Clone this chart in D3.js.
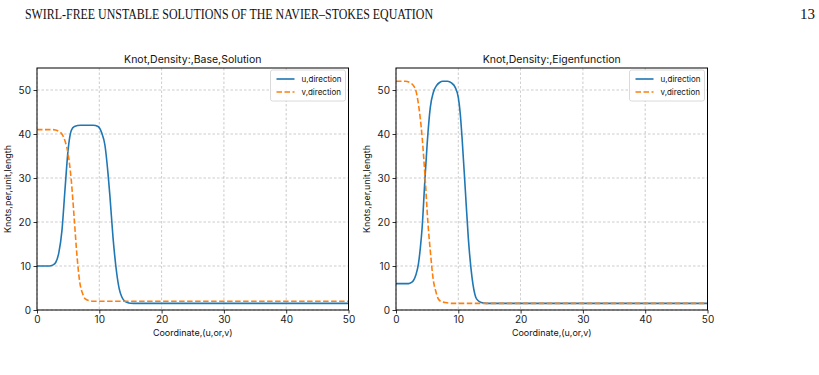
<!DOCTYPE html>
<html><head><meta charset="utf-8">
<script src="https://cdn.jsdelivr.net/npm/d3@7"></script>
<style>
body{margin:0;background:#fff;}
svg{display:block;}
text{font-family:Inter, "Open Sans", sans-serif;}
</style></head>
<body>
<svg id="c" width="819" height="375"></svg>
<script>
// ---- data ----
const headerText = "SWIRL-FREE UNSTABLE SOLUTIONS OF THE NAVIER–STOKES EQUATION";
const pageNumber = "13";
const titles = ["Knot,Density:,Base,Solution", "Knot,Density:,Eigenfunction"];
const xLabel = "Coordinate,(u,or,v)";
const yLabel = "Knots,per,unit,length";
const seriesNames = ["u,direction", "v,direction"];
const xTicks = [0, 10, 20, 30, 40, 50];
const yTicks = [0, 10, 20, 30, 40, 50];

const baseUx = [0, 2, 2.5, 3, 3.5, 4, 4.5, 5, 5.5, 6, 7, 9, 9.8, 10.4, 10.9, 11.4, 11.7, 12.2, 12.8, 13.2, 13.6, 14, 14.5, 15, 16, 50];
const baseUy = [10, 10, 10.2, 10.8, 13, 18, 27.5, 36.5, 40.8, 41.7, 42, 42, 41.7, 40.2, 37.5, 31, 26, 16.5, 8.3, 4.8, 3, 2.1, 1.7, 1.55, 1.5, 1.5];
const baseVx = [0, 2.5, 3, 3.5, 4, 4.5, 5, 5.5, 6, 6.35, 6.9, 7.3, 7.7, 8.5, 9, 50];
const baseVy = [41, 41, 40.9, 40.6, 40, 38.4, 35.4, 29.5, 20.3, 13.5, 6, 3.8, 2.6, 2.1, 2, 2];

const eigUx = [0, 2, 2.5, 2.8, 3.2, 3.6, 3.9, 4.2, 4.6, 5.0, 5.5, 6.0, 6.5, 7, 7.5, 8.3, 8.9, 9.5, 10, 10.3, 10.6, 11.1, 11.6, 12.2, 12.8, 13.2, 13.7, 14.5, 50];
const eigUy = [6, 6, 6.3, 6.7, 8, 10.5, 14, 18.8, 28.6, 37.7, 46, 49.5, 51, 51.7, 52, 52, 51.6, 50.6, 48.3, 44.8, 39.2, 27.9, 16.5, 7.4, 2.9, 2.1, 1.7, 1.5, 1.5];
const eigVx = [0, 1.5, 2.2, 2.8, 3.2, 3.6, 4.2, 4.7, 5.1, 5.5, 6.0, 6.4, 6.8, 7.3, 7.9, 9, 50];
const eigVy = [52, 52, 51.7, 51, 49.8, 46.8, 39.2, 29.4, 20.3, 13.5, 6.7, 4.2, 2.5, 1.9, 1.7, 1.5, 1.5];

const panels = [
  {title: titles[0], u: [baseUx, baseUy], v: [baseVx, baseVy], left: 37},
  {title: titles[1], u: [eigUx, eigUy], v: [eigVx, eigVy], left: 396}
];
const colors = ["#1f77b4", "#ff7f0e"];

// ---- draw ----
const svg = d3.select("#c");
svg.append("text").attr("x", 25).attr("y", 19)
  .style("font-family", "'Liberation Serif', 'DejaVu Serif', serif")
  .style("font-size", "15px").attr("fill", "#111")
  .attr("textLength", 408).attr("lengthAdjust", "spacingAndGlyphs")
  .text(headerText);
svg.append("text").attr("x", 815).attr("y", 19).attr("text-anchor", "end")
  .style("font-family", "'Liberation Serif', 'DejaVu Serif', serif")
  .style("font-size", "15px").attr("fill", "#111").text(pageNumber);

const W = 311.5, plotTop = 68, plotBottom = 310;

panels.forEach(p => {
  const g = svg.append("g");
  const x = d3.scaleLinear().domain([0, 50]).range([p.left, p.left + W]);
  const y = d3.scaleLinear().domain([0, 55]).range([plotBottom, plotTop]);

  // grid
  g.append("g").selectAll("line").data(xTicks).join("line")
    .attr("x1", d => x(d)).attr("x2", d => x(d)).attr("y1", plotTop).attr("y2", plotBottom)
    .attr("stroke", "#b0b0b0").attr("stroke-width", 0.8).attr("stroke-dasharray", "2.5,2").attr("opacity", 0.8);
  g.append("g").selectAll("line").data(yTicks).join("line")
    .attr("y1", d => y(d)).attr("y2", d => y(d)).attr("x1", p.left).attr("x2", p.left + W)
    .attr("stroke", "#b0b0b0").attr("stroke-width", 0.8).attr("stroke-dasharray", "2.5,2").attr("opacity", 0.8);

  // lines
  const line = d3.line().x(d => x(d[0])).y(d => y(d[1])).curve(d3.curveMonotoneX);
  const uData = p.u[0].map((v, i) => [v, p.u[1][i]]);
  const vData = p.v[0].map((v, i) => [v, p.v[1][i]]);
  const clipId = "clip" + p.left;
  svg.append("clipPath").attr("id", clipId).append("rect")
    .attr("x", p.left).attr("y", plotTop).attr("width", W).attr("height", plotBottom - plotTop);
  const lg = g.append("g").attr("clip-path", `url(#${clipId})`);
  lg.append("path").datum(uData).attr("d", line).attr("fill", "none")
    .attr("stroke", colors[0]).attr("stroke-width", 1.6);
  lg.append("path").datum(vData).attr("d", line).attr("fill", "none")
    .attr("stroke", colors[1]).attr("stroke-width", 1.6).attr("stroke-dasharray", "5.5,2.5");

  // axes
  const xa = g.append("g").attr("transform", `translate(0,${plotBottom})`)
    .call(d3.axisBottom(x).tickValues(xTicks).tickSize(3.5).tickPadding(2));
  const ya = g.append("g").attr("transform", `translate(${p.left},0)`)
    .call(d3.axisLeft(y).tickValues(yTicks).tickSize(3.5).tickPadding(2.5));
  [xa, ya].forEach(a => {
    a.select(".domain").remove();
    a.selectAll("text").style("font-family", "Inter, sans-serif").style("font-size", "10px").attr("fill", "#222");
    a.selectAll("line").attr("stroke", "#000").attr("stroke-width", 0.8);
  });
  // frame
  g.append("rect").attr("x", p.left).attr("y", plotTop).attr("width", W).attr("height", plotBottom - plotTop)
    .attr("fill", "none").attr("stroke", "#000").attr("stroke-width", 1);

  // labels
  g.append("text").attr("x", p.left + W / 2).attr("y", plotTop - 5).attr("text-anchor", "middle")
    .style("font-size", "10.5px").attr("fill", "#111").text(p.title);
  g.append("text").attr("x", p.left + W / 2).attr("y", plotBottom + 26).attr("text-anchor", "middle")
    .style("font-size", "9px").attr("fill", "#111").text(xLabel);
  g.append("text").attr("transform", `translate(${p.left - 26},${(plotTop + plotBottom) / 2}) rotate(-90)`)
    .attr("text-anchor", "middle").style("font-size", "9px").attr("fill", "#111").text(yLabel);

  // legend
  const lx = p.left + W - 78, ly = plotTop + 2;
  g.append("rect").attr("x", lx).attr("y", ly).attr("width", 75).attr("height", 31).attr("rx", 2)
    .attr("fill", "#fff").attr("fill-opacity", 0.85).attr("stroke", "#d0d0d0").attr("stroke-width", 0.8);
  seriesNames.forEach((name, i) => {
    const yy = ly + 9 + i * 13;
    g.append("line").attr("x1", lx + 6).attr("x2", lx + 24).attr("y1", yy).attr("y2", yy)
      .attr("stroke", colors[i]).attr("stroke-width", 1.6)
      .attr("stroke-dasharray", i === 1 ? "5.5,2.5" : null);
    g.append("text").attr("x", lx + 31).attr("y", yy + 3).style("font-size", "8px")
      .attr("fill", "#111").text(name);
  });
});
</script>
</body></html>
